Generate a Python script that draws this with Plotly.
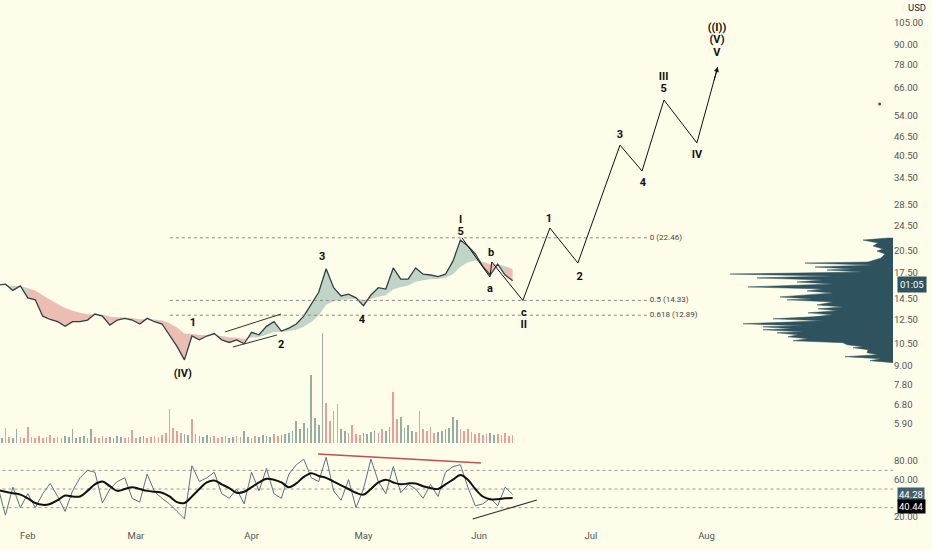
import numpy as np
import pandas as pd
import plotly.graph_objects as go

# ---- price, every 2 days from 2024-01-24 ----
price_start = "2024-01-24"
price = [16.0, 16.1, 15.4, 15.9, 14.6, 14.4, 12.8, 12.5, 12.3, 11.9,
         12.3, 12.3, 12.45, 13.0, 12.8, 12.0, 12.45, 12.6, 12.45, 12.1,
         12.6, 12.3, 12.1, 11.2, 10.3, 9.35, 11.1, 10.8, 11.1, 11.3,
         10.8, 10.6, 10.8, 10.5, 11.4, 11.2, 11.9, 12.3, 11.5, 11.75,
         12.1, 12.8, 14.0, 15.2, 18.0, 15.7, 14.8, 15.0, 14.6, 13.8,
         14.9, 15.7, 15.55, 18.1, 16.7, 16.7, 18.1, 17.3, 17.2, 17.0,
         17.3, 19.0, 22.1, 21.2, 20.0, 18.3, 17.2, 18.6, 17.2, 16.5]

# daily volume (relative heights)
volume = [6, 5, 15, 6, 5, 14, 6, 5, 16, 6, 5, 7, 5, 6, 8, 5, 6, 5, 7, 6,
          14, 5, 6, 7, 5, 14, 6, 5, 7, 5, 6, 5, 7, 6, 5, 6, 13, 5, 6, 7,
          5, 6, 7, 6, 8, 10, 34, 15, 12, 10, 9, 8, 24, 9, 7, 6, 8, 6, 7, 5,
          6, 7, 5, 6, 7, 6, 12, 6, 5, 7, 6, 8, 7, 6, 9, 7, 8, 9, 10, 12,
          22, 14, 20, 15, 68, 25, 18, 110, 40, 22, 32, 39, 14, 12, 10, 18, 9, 8, 10, 9,
          11, 12, 10, 14, 12, 16, 51, 24, 26, 15, 18, 12, 11, 32, 14, 12, 16, 10, 11, 12,
          14, 15, 26, 23, 14, 12, 14, 11, 9, 10, 8, 9, 10, 8, 9, 8, 10, 7, 8]

# RSI and its moving average, same 2-day grid as price
rsi = [52, 22, 52, 30, 45, 30, 45, 56, 42, 26, 48, 62, 70, 68, 35, 50, 58, 62, 40, 36,
       66, 47, 40, 34, 26, 18, 75, 58, 62, 68, 45, 40, 50, 34, 68, 48, 72, 45, 40, 66,
       76, 82, 62, 58, 84, 48, 38, 60, 30, 50, 82, 58, 45, 74, 46, 55, 50, 40, 55, 42,
       68, 74, 76, 52, 32, 34, 40, 32, 52, 44.28]
rsi_ma = [49, 47, 45.5, 44, 40, 35, 33, 34, 38, 43, 42, 42, 48, 55, 58, 53, 48, 50, 52, 50,
          48, 47, 46, 42, 36, 35, 42, 50, 57, 59, 55, 51, 46, 47, 52, 57, 61, 60, 57, 52,
          56, 63, 67, 64, 62, 58, 54, 50, 46, 44, 50, 57, 60, 57, 55, 56, 56, 53, 51, 50,
          55, 60, 65, 60, 50, 42, 39, 39, 40, 40.44]

# Elliott wave path (actual + projection)
wave_dates = ["2024-05-27 10:00", "2024-06-03 22:00", "2024-06-04 10:00", "2024-06-12 18:00",
              "2024-06-20", "2024-06-27 12:00", "2024-07-08 19:00", "2024-07-14 17:00",
              "2024-07-20 14:00", "2024-07-29 10:00", "2024-08-04"]
wave_prices = [22.46, 16.96, 18.88, 14.33, 24.1, 18.75, 43.7, 36.3, 60.4, 44.4, 76.6]

label_text = ["1", "(IV)", "2", "3", "4", "I", "5", "b", "a", "c", "II",
              "1", "2", "3", "4", "III", "5", "IV", "V", "(V)", "((I))"]
label_dates = ["2024-03-16 07:00", "2024-03-13 14:00", "2024-04-08 22:00", "2024-04-19 22:00",
               "2024-04-30 14:00", "2024-05-27 02:00", "2024-05-27 02:00", "2024-06-04 05:00",
               "2024-06-03 22:00", "2024-06-13", "2024-06-13", "2024-06-19 17:00",
               "2024-06-28", "2024-07-08 19:00", "2024-07-14 22:00", "2024-07-20 12:00",
               "2024-07-20 12:00", "2024-07-29 10:00", "2024-08-03 19:00", "2024-08-03 19:00",
               "2024-08-03 19:00"]
label_prices = [12.19, 8.45, 10.41, 19.58, 12.45, 25.53, 23.42, 20.14, 15.56, 13.09, 12.01,
                25.71, 16.96, 47.0, 33.3, 71.3, 65.4, 40.7, 84.7, 92.9, 101.3]

fib_levels = [22.46, 14.33, 12.89]
fib_names = ["0 (22.46)", "0.5 (14.33)", "0.618 (12.89)"]
fib_span = ["2024-03-10 02:00", "2024-07-16 19:00"]

# wedge before wave 2
wedge_upper = (["2024-03-24 22:00", "2024-04-08 22:00"], [11.43, 13.0])
wedge_lower = (["2024-03-27", "2024-04-07 19:00"], [10.26, 11.18])

# RSI trend lines
rsi_res = (["2024-04-18 19:00", "2024-06-01 12:00"], [87.5, 77.9])
rsi_sup = (["2024-05-30 07:00", "2024-06-16 12:00"], [17.8, 38.2])

# volume profile: price level -> relative width
vp_price = [22.43, 22.11, 21.64, 21.18, 20.73, 20.43, 20.0, 19.43, 18.88, 18.74,
            18.48, 18.22, 17.96, 17.83, 17.57, 17.32, 17.08, 16.84, 16.60, 16.36,
            16.13, 15.79, 15.56, 15.34, 15.12, 15.02, 14.80, 14.70, 14.49, 14.39,
            14.18, 13.88, 13.68, 13.49, 13.30, 13.11, 12.92, 12.74, 12.56, 12.38,
            12.12, 11.94, 11.86, 11.69, 11.61, 11.44, 11.36, 11.20, 11.04, 10.88,
            10.73, 10.58, 10.43, 10.28, 10.21, 10.06, 9.85, 9.71, 9.57, 9.43, 9.30, 9.17]
vp_width = [5, 30, 15, 20, 10, 16, 8, 12, 25, 88,
            20, 78, 40, 66, 30, 163, 60, 136, 70, 96,
            60, 145, 70, 86, 60, 73, 100, 113, 80, 106,
            60, 76, 50, 75, 55, 85, 60, 80, 120, 70,
            150, 90, 130, 100, 130, 90, 116, 95, 105, 85,
            100, 50, 46, 30, 40, 25, 26, 15, 48, 12, 23, 5]

price_ticks = [5.9, 6.8, 7.8, 9.0, 10.5, 12.5, 14.5, 17.5, 20.5, 24.5, 28.5,
               34.5, 40.5, 46.5, 54.0, 66.0, 78.0, 90.0, 105.0]
rsi_ticks = [20, 60, 80]
month_ticks = ["2024-02-01", "2024-03-01", "2024-04-01", "2024-05-01",
               "2024-06-01", "2024-07-01", "2024-08-01"]

BG = "#fefde9"
DARK = "#2e4048"
CLEAR = "rgba(0,0,0,0)"

dates = pd.date_range(price_start, periods=len(price), freq="2D")
vdates = pd.date_range(price_start, periods=len(volume), freq="D")
p = np.array(price)
ma = pd.Series(p).ewm(span=9, adjust=False).mean().values

fig = go.Figure()

# volume (drawn first, sits under the price)
n = len(p)
vcol = []
for d in range(len(volume)):
    i = min(d // 2, n - 2)
    vcol.append("rgba(60,110,110,0.55)" if p[i + 1] >= p[i] else "rgba(214,80,90,0.55)")
fig.add_trace(go.Bar(x=vdates, y=volume, marker_color=vcol, marker_line_width=0,
                     width=0.45 * 86400000, yaxis="y3", showlegend=False))

# ribbon between price and its EMA
above = ma > p
start = 0
for i in range(1, n + 1):
    if i == n or above[i] != above[start]:
        end = min(i, n - 1)
        xs = list(dates[start:end + 1]) + list(dates[start:end + 1][::-1])
        ys = list(p[start:end + 1]) + list(ma[start:end + 1][::-1])
        col = "rgba(214,110,110,0.45)" if above[start] else "rgba(120,165,155,0.45)"
        fig.add_trace(go.Scatter(x=xs, y=ys, fill="toself", fillcolor=col, mode="none",
                                 hoverinfo="skip", showlegend=False))
        start = i

# price line
fig.add_trace(go.Scatter(x=dates, y=p, mode="lines", line=dict(color=DARK, width=1.3),
                         showlegend=False))

# fib lines + labels
for lvl, name in zip(fib_levels, fib_names):
    fig.add_trace(go.Scatter(x=fib_span, y=[lvl, lvl], mode="lines",
                             line=dict(color="#888", width=1, dash="dot"), showlegend=False))
    fig.add_trace(go.Scatter(x=[fib_span[1]], y=[lvl], mode="text", text=[name],
                             textposition="middle right",
                             textfont=dict(size=8, color="#444", family="Roboto"),
                             showlegend=False))

# wedge
for xs, ys in (wedge_upper, wedge_lower):
    fig.add_trace(go.Scatter(x=xs, y=ys, mode="lines", line=dict(color="#333", width=1),
                             showlegend=False))

# wave path
fig.add_trace(go.Scatter(x=wave_dates, y=wave_prices, mode="lines",
                         line=dict(color="#111", width=1), showlegend=False))

# wave labels
fig.add_trace(go.Scatter(x=label_dates, y=label_prices, mode="text",
                         text=["<b>%s</b>" % t for t in label_text],
                         textfont=dict(size=11, color="#111", family="Roboto"),
                         showlegend=False))

# small marker at right
fig.add_trace(go.Scatter(x=["2024-09-16 10:00"], y=[58.7], mode="markers",
                         marker=dict(size=3, color="#a03030"), showlegend=False))

# volume profile
fig.add_trace(go.Scatter(x=[0] + vp_width + [0], y=[vp_price[0]] + vp_price + [vp_price[-1]],
                         mode="lines", fill="toself", fillcolor="#2f525f",
                         line=dict(color="#2f525f", width=0.5), xaxis="x2",
                         showlegend=False))

# RSI pane
rsi_span = [dates[0] - pd.Timedelta(days=2), "2024-09-20"]
for lvl in (70, 50, 30):
    fig.add_trace(go.Scatter(x=rsi_span, y=[lvl, lvl], mode="lines", yaxis="y2",
                             line=dict(color="#999", width=1, dash="dot"), showlegend=False))
fig.add_trace(go.Scatter(x=dates, y=rsi, mode="lines", yaxis="y2",
                         line=dict(color="#5b7380", width=1), showlegend=False))
fig.add_trace(go.Scatter(x=dates, y=rsi_ma, mode="lines", yaxis="y2",
                         line=dict(color="#111", width=2, shape="spline"), showlegend=False))
fig.add_trace(go.Scatter(x=rsi_res[0], y=rsi_res[1], mode="lines", yaxis="y2",
                         line=dict(color="#c0504d", width=1.5), showlegend=False))
fig.add_trace(go.Scatter(x=rsi_sup[0], y=rsi_sup[1], mode="lines", yaxis="y2",
                         line=dict(color="#333", width=1.2), showlegend=False))

tickfont = dict(size=9.5, color="#555", family="Roboto")
fig.update_layout(
    width=932, height=550,
    margin=dict(l=0, r=39, t=0, b=22),
    paper_bgcolor=BG, plot_bgcolor=CLEAR,
    showlegend=False,
    bargap=0,
    xaxis=dict(type="date", range=["2024-01-24 13:00", "2024-09-20"], anchor="y2",
               tickvals=month_ticks, tickformat="%b", showgrid=False, zeroline=False,
               showline=False, ticks="", tickfont=tickfont),
    xaxis2=dict(overlaying="x", range=[893, 0], visible=False, anchor="y"),
    yaxis=dict(type="log", range=[0.6962, 2.0929], domain=[0.1515, 1], side="right",
               tickvals=price_ticks, ticktext=["%.2f" % v for v in price_ticks],
               showgrid=False, zeroline=False, ticks="", tickfont=tickfont, anchor="x"),
    yaxis2=dict(range=[8.2, 91.8], domain=[0, 0.1477], side="right",
                tickvals=rsi_ticks, ticktext=["%.2f" % v for v in rsi_ticks],
                showgrid=False, zeroline=False, ticks="", tickfont=tickfont, anchor="x"),
    yaxis3=dict(range=[0, 113], domain=[0.1610, 0.375], visible=False, anchor="x"),
)

fig.add_annotation(x=1.027, y=1.0, xref="paper", yref="paper", xanchor="center",
                   yanchor="top", text="USD", showarrow=False,
                   font=dict(size=9.5, color="#222", family="Roboto"),
                   bgcolor="white", borderpad=1)
fig.add_annotation(x=1.004, y=np.log10(16.1), xref="paper", yref="y", text="01:05",
                   xanchor="left", showarrow=False, bgcolor="#2f525f",
                   font=dict(size=9.5, color="white", family="Roboto"), borderpad=2)
fig.add_annotation(x=1.004, y=44.28, xref="paper", yref="y2", text="44.28",
                   xanchor="left", showarrow=False, bgcolor="#41606c",
                   font=dict(size=9.5, color="white", family="Roboto"), borderpad=1)
fig.add_annotation(x=1.004, y=31.5, xref="paper", yref="y2", text="40.44",
                   xanchor="left", showarrow=False, bgcolor="#000",
                   font=dict(size=9.5, color="white", family="Roboto"), borderpad=1)
# arrow head at end of projection
fig.add_annotation(x=wave_dates[-1], y=np.log10(wave_prices[-1]), xref="x", yref="y",
                   ax=-4, ay=15, showarrow=True, arrowhead=2, arrowsize=1,
                   arrowwidth=1, arrowcolor="#111", text="")

fig.write_html("out.html", config={"displayModeBar": False},
               post_script="document.body.style.margin='0';"
                           "document.body.style.background='%s';" % BG)
